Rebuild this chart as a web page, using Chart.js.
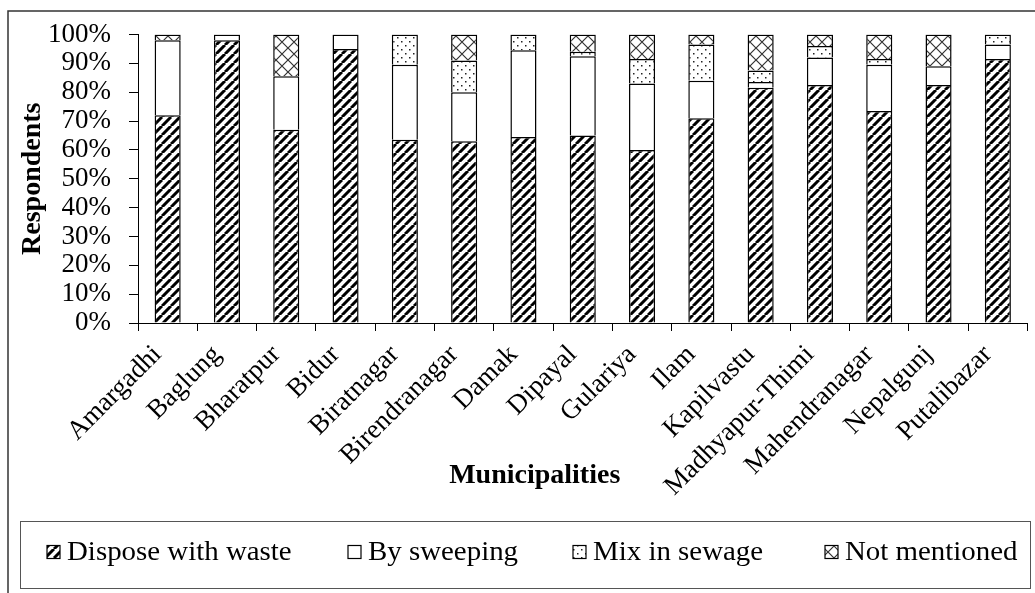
<!DOCTYPE html>
<html>
<head>
<meta charset="utf-8">
<title>Disposal of sweepings by municipality</title>
<script src="https://cdn.jsdelivr.net/npm/chart.js@4.4.1/dist/chart.umd.min.js"></script>
<style>
  html, body { margin: 0; padding: 0; background: #fff; }
  #wrap { width: 1035px; height: 593px; position: relative; }
  canvas { display: block; }
</style>
</head>
<body>
<div id="wrap"><canvas id="chart" width="1035" height="593"></canvas></div>
<script>
// Municipalities (x categories)
const categories = [
  'Amargadhi', 'Baglung', 'Bharatpur', 'Bidur', 'Biratnagar', 'Birendranagar',
  'Damak', 'Dipayal', 'Gulariya', 'Ilam', 'Kapilvastu', 'Madhyapur-Thimi',
  'Mahendranagar', 'Nepalgunj', 'Putalibazar'
];

// Share of respondents (%) per disposal method
const disposeWithWaste = [72, 98, 67, 95, 63.5, 63, 64.5, 65, 60, 71, 81.5, 82.5, 73.5, 82.5, 91.5];
const bySweeping       = [26, 2, 18.5, 5, 26, 17, 30, 27.5, 23, 13, 2, 9.5, 16, 6.5, 5];
const mixInSewage      = [0, 0, 0, 0, 10.5, 11, 5.5, 1.5, 8.5, 12.5, 4, 4, 2, 0, 3.5];
const notMentioned     = [2, 0, 14.5, 0, 0, 9, 0, 6, 8.5, 3.5, 12.5, 4, 8.5, 11, 0];

const seriesNames = ['Dispose with waste', 'By sweeping', 'Mix in sewage', 'Not mentioned'];

// Y axis tick values and labels
const yTickValues = [0, 10, 20, 30, 40, 50, 60, 70, 80, 90, 100];
const yTickLabels = yTickValues.map(v => v + '%');

const FONT = '"Liberation Serif", "Times New Roman", serif';

// ---- fill patterns ----
function makeTile(size, draw) {
  const c = document.createElement('canvas');
  c.width = size; c.height = size;
  const g = c.getContext('2d');
  g.fillStyle = '#fff';
  g.fillRect(0, 0, size, size);
  draw(g, size);
  return document.getElementById('chart').getContext('2d').createPattern(c, 'repeat');
}

// wide upward diagonal stripes
const hatchFill = makeTile(9, (g, s) => {
  g.strokeStyle = '#000';
  g.lineWidth = 3;
  g.beginPath();
  for (let k = -1; k <= 1; k++) {
    g.moveTo(k * s, s);
    g.lineTo(k * s + s, 0);
  }
  g.stroke();
});

// sparse dots
const dotFill = makeTile(8, (g) => {
  g.fillStyle = '#222';
  g.fillRect(1, 1, 1.5, 1.5);
  g.fillRect(5, 5, 1.5, 1.5);
});

// large diagonal cross-hatch
const crossFill = makeTile(12, (g, s) => {
  g.strokeStyle = '#333';
  g.lineWidth = 1.2;
  g.beginPath();
  g.moveTo(0, 0); g.lineTo(s, s);
  g.moveTo(0, s); g.lineTo(s, 0);
  g.stroke();
});

const fills = [hatchFill, '#ffffff', dotFill, crossFill];
const seriesData = [disposeWithWaste, bySweeping, mixInSewage, notMentioned];

// Frame, legend box and x-axis title
const decorations = {
  id: 'decorations',
  afterDraw(chart) {
    const ctx = chart.ctx;
    const area = chart.chartArea;
    ctx.save();

    // outer frame
    ctx.strokeStyle = '#333';
    ctx.lineWidth = 1.5;
    ctx.beginPath();
    ctx.moveTo(8, 593);
    ctx.lineTo(8, 11);
    ctx.lineTo(1035, 11);
    ctx.stroke();

    // legend box
    ctx.strokeStyle = '#555';
    ctx.lineWidth = 1;
    ctx.strokeRect(20.5, 521.5, 1010, 67);

    // legend entries
    const boxX = [47, 348, 573, 825];
    const cy = 552;
    ctx.font = '27px ' + FONT;
    ctx.textBaseline = 'middle';
    ctx.textAlign = 'left';
    chart.data.datasets.forEach((ds, i) => {
      const x = boxX[i];
      ctx.fillStyle = ds.backgroundColor;
      ctx.fillRect(x, cy - 6.5, 13, 13);
      ctx.strokeStyle = '#000';
      ctx.lineWidth = 1.2;
      ctx.strokeRect(x, cy - 6.5, 13, 13);
      ctx.fillStyle = '#000';
      ctx.save();
      ctx.translate(x + 20, cy + 1);
      ctx.scale(1.07, 1);
      ctx.fillText(ds.label, 0, 0);
      ctx.restore();
    });

    // x-axis title
    ctx.font = 'bold 28px ' + FONT;
    ctx.textAlign = 'center';
    ctx.textBaseline = 'middle';
    ctx.fillStyle = '#000';
    ctx.fillText('Municipalities', area.left + (area.right - area.left) * 0.446, 476);

    ctx.restore();
  }
};

new Chart(document.getElementById('chart'), {
  type: 'bar',
  data: {
    labels: categories,
    datasets: seriesNames.map((name, i) => ({
      label: name,
      data: seriesData[i],
      backgroundColor: fills[i],
      borderColor: '#000',
      borderWidth: 1.5,
      categoryPercentage: 1,
      barPercentage: 0.44
    }))
  },
  options: {
    responsive: false,
    animation: false,
    devicePixelRatio: 1,
    layout: { padding: { top: 34.5, right: 7.5, left: 0, bottom: 0 } },
    plugins: {
      legend: { display: false },
      tooltip: { enabled: false },
      title: { display: false }
    },
    scales: {
      x: {
        stacked: true,
        offset: true,
        afterFit(scale) { scale.height = 270; },
        grid: {
          offset: true,
          drawOnChartArea: false,
          drawTicks: true,
          tickLength: 8,
          color: '#000',
          lineWidth: 1
        },
        border: { display: true, color: '#000', width: 1 },
        ticks: {
          autoSkip: false,
          maxRotation: 45,
          minRotation: 45,
          padding: 8,
          labelOffset: -10,
          color: '#000',
          font: { family: FONT, size: 27 }
        }
      },
      y: {
        stacked: true,
        min: 0,
        max: 100,
        afterFit(scale) { scale.width = 138; },
        afterBuildTicks(scale) { scale.ticks = yTickValues.map(v => ({ value: v })); },
        grid: {
          drawOnChartArea: false,
          drawTicks: true,
          tickLength: 9,
          color: '#000',
          lineWidth: 1
        },
        border: { display: true, color: '#000', width: 1 },
        ticks: {
          autoSkip: false,
          padding: 18,
          color: '#000',
          font: { family: FONT, size: 27 },
          callback: (v) => yTickLabels[yTickValues.indexOf(v)]
        },
        title: {
          display: true,
          text: 'Respondents',
          color: '#000',
          font: { family: FONT, size: 28, weight: 'bold' },
          padding: { top: 16, bottom: 0 }
        }
      }
    }
  },
  plugins: [decorations]
});
</script>
</body>
</html>
